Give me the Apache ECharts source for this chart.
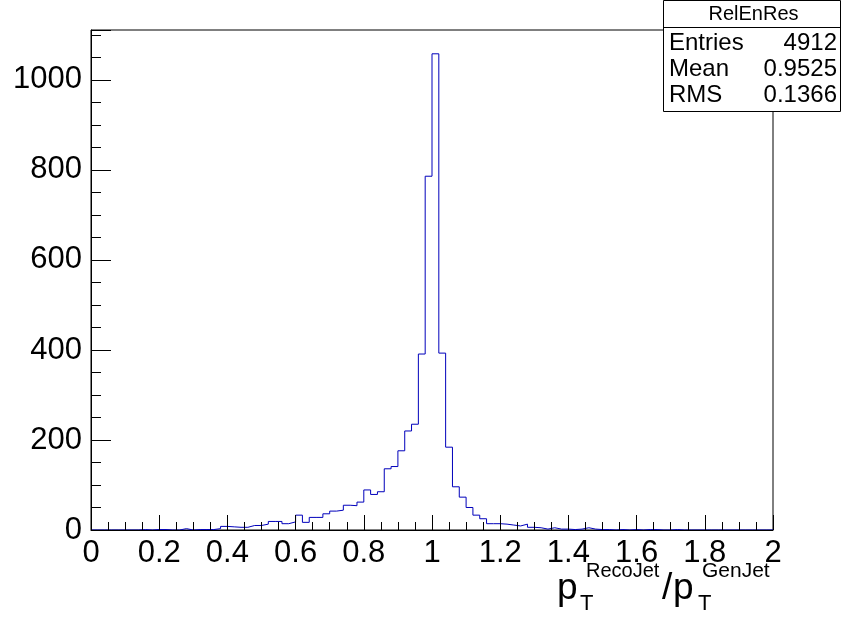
<!DOCTYPE html>
<html>
<head>
<meta charset="utf-8">
<script src="https://cdn.jsdelivr.net/npm/echarts@6/dist/echarts.min.js"></script>
<style>
html,body{margin:0;padding:0;background:#fff;}
#c{width:841px;height:621px;}
</style>
</head>
<body>
<div id="c"></div>
<script>
// Histogram definition: 100 bins from 0 to 2
const binLow = 0;
const binWidth = 0.02;
const counts = [
  0,0,0,0,0,0,0,1,0,1,
  1,0,0,3,0,1,1,1,3,8,
  7,6,6,10,10,13,19,19,14,18,
  33,17,28,28,36,42,44,55,54,62,
  89,79,85,136,141,176,220,235,391,786,
  1058,393,184,96,73,50,33,25,14,14,
  13,11,9,13,6,5,2,5,2,2,
  1,2,5,2,1,1,0,1,0,1,
  0,1,1,0,0,1,0,0,0,0,
  0,0,0,0,0,0,0,0,0,0
];
const xTickLabels = ['0','0.2','0.4','0.6','0.8','1','1.2','1.4','1.6','1.8','2'];
const yTickLabels = ['0','200','400','600','800','1000'];
const statsTitle = 'RelEnRes';
const statsNames = ['Entries','Mean','RMS'];
const statsValues = ['4912','0.9525','0.1366'];

const yMax = Math.max(...counts) * 1.05;
const stepData = counts.map((v, i) => [binLow + i * binWidth, v]);
stepData.push([binLow + counts.length * binWidth, counts[counts.length - 1]]);

const FONT = '"Liberation Sans", Arial, Helvetica, sans-serif';
const chart = echarts.init(document.getElementById('c'), null, {renderer: 'canvas'});

function fmtX(v) {
  const s = String(parseFloat(v.toFixed(2)));
  return xTickLabels.indexOf(s) >= 0 ? s : '';
}
function fmtY(v) {
  const s = String(Math.round(v));
  return (Math.abs(v - Math.round(v)) < 1e-6 && yTickLabels.indexOf(s) >= 0) ? s : '';
}

const g = [];
const bx = 663, by = 0, bw = 177, bh = 111;
g.push({type:'rect', z:100, shape:{x:bx+0.5, y:by+0.5, width:bw, height:bh},
  style:{fill:'#fff', stroke:'#000', lineWidth:1}});
g.push({type:'line', z:101, shape:{x1:bx, y1:27.5, x2:bx+bw, y2:27.5},
  style:{stroke:'#000', lineWidth:1}});
g.push({type:'text', z:101, style:{text:statsTitle, x:bx+bw/2+2, y:14,
  textAlign:'center', textVerticalAlign:'middle', font:'20px ' + FONT, fill:'#000'}});
const rowY = [43, 69, 95];
statsNames.forEach((n, i) => {
  g.push({type:'text', z:101, style:{text:n, x:bx+6, y:rowY[i],
    textAlign:'left', textVerticalAlign:'middle', font:'24px ' + FONT, fill:'#000'}});
  g.push({type:'text', z:101, style:{text:statsValues[i], x:bx+bw-3, y:rowY[i],
    textAlign:'right', textVerticalAlign:'middle', font:'24px ' + FONT, fill:'#000'}});
});

// axis title p_T^{RecoJet}/p_T^{GenJet}
const titleParts = [
  {t:'p', x:557, y:589, s:37},
  {t:'RecoJet', x:586, y:571, s:20},
  {t:'T', x:580, y:604, s:22},
  {t:'/', x:662, y:589, s:37},
  {t:'p', x:673, y:589, s:37},
  {t:'GenJet', x:702, y:571, s:21},
  {t:'T', x:698, y:604, s:22}
];
titleParts.forEach(p => {
  g.push({type:'text', z:101, style:{text:p.t, x:p.x, y:p.y,
    textAlign:'left', textVerticalAlign:'middle', font:p.s + 'px ' + FONT, fill:'#000'}});
});

const option = {
  animation: false,
  backgroundColor: '#fff',
  grid: {left: 91, right: 68, top: 30, bottom: 91, show: true, borderColor: '#000', borderWidth: 1, backgroundColor: '#fff'},
  xAxis: {
    type: 'value', min: 0, max: 2, interval: 0.2, z: 5,
    axisLine: {show: true, onZero: false, lineStyle: {color: '#000', width: 1}},
    axisTick: {show: true, inside: true, length: 15, lineStyle: {color: '#000'}},
    minorTick: {show: true, splitNumber: 4, length: 8, lineStyle: {color: '#000'}},
    splitLine: {show: false},
    axisLabel: {color: '#000', fontSize: 31, fontFamily: FONT, margin: 8, formatter: fmtX, showMaxLabel: true, showMinLabel: true}
  },
  yAxis: [
    {
      type: 'value', min: 0, max: yMax, interval: 200, z: 5,
      axisLine: {show: true, onZero: false, lineStyle: {color: '#000', width: 1}},
      axisTick: {show: true, inside: true, length: 20, lineStyle: {color: '#000'}},
      splitLine: {show: false},
      axisLabel: {color: '#000', fontSize: 31, fontFamily: FONT, margin: 9, formatter: fmtY}
    },
    {
      type: 'value', min: 0, max: yMax, interval: 50, position: 'left', offset: 0, z: 5,
      axisLine: {show: false},
      axisTick: {show: true, inside: true, length: 10, lineStyle: {color: '#000'}},
      splitLine: {show: false},
      axisLabel: {show: false}
    }
  ],
  graphic: g,
  series: [{
    type: 'line',
    step: 'end',
    yAxisIndex: 0,
    data: stepData,
    symbol: 'none',
    z: 2,
    lineStyle: {color: '#0000bb', width: 1},
    clip: true
  }]
};
chart.setOption(option);
</script>
</body>
</html>
